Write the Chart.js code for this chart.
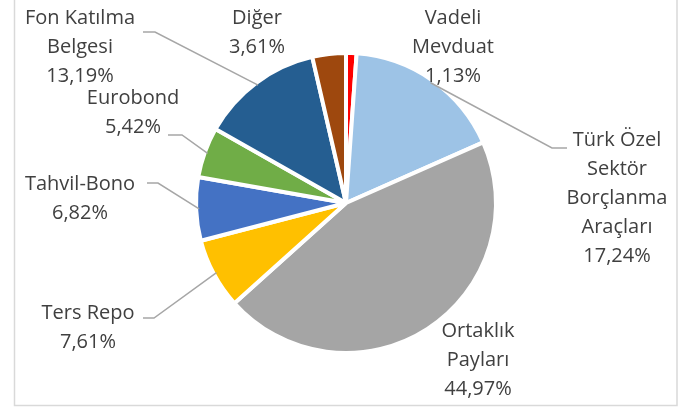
<!DOCTYPE html>
<html>
<head>
<meta charset="utf-8">
<script src="https://cdn.jsdelivr.net/npm/chart.js@4.4.1/dist/chart.umd.min.js"></script>
<style>
    html, body { margin: 0; padding: 0; background: #fff; }
    #wrap { width: 697px; height: 410px; }
</style>
</head>
<body>
<div id="wrap"><canvas id="portfolioChart" width="697" height="410"></canvas></div>
<script>
const categories = ["Vadeli Mevduat", "Türk Özel Sektör Borçlanma Araçları", "Ortaklık Payları", "Ters Repo", "Tahvil-Bono", "Eurobond", "Fon Katılma Belgesi", "Diğer"];
const shares = [1.13, 17.24, 44.97, 7.61, 6.82, 5.42, 13.19, 3.61];
const labelLines = [
    ["Vadeli", "Mevduat"],
    ["Türk Özel", "Sektör", "Borçlanma", "Araçları"],
    ["Ortaklık", "Payları"],
    ["Ters Repo"],
    ["Tahvil-Bono"],
    ["Eurobond"],
    ["Fon Katılma", "Belgesi"],
    ["Diğer"]
];
const sliceColors = ["#FF0000", "#9DC3E6", "#A5A5A5", "#FFC000", "#4472C4", "#70AD47", "#255E91", "#9E480E"];

// where each data label sits (centre of first line) and the elbow of its leader line
const labelLayout = [
    { x: 453, y: 18, leader: null },
    { x: 617, y: 140, leader: [[567, 148], [552, 148]] },
    { x: 478, y: 331, leader: null },
    { x: 88, y: 313, leader: [[143, 318], [154, 318]] },
    { x: 80, y: 184, leader: [[147, 183], [158, 183]] },
    { x: 133, y: 98, leader: [[168, 135], [182, 135]] },
    { x: 80, y: 18, leader: [[143, 32], [155, 32]] },
    { x: 257, y: 18, leader: null }
];

const fmtPct = (v) => v.toFixed(2).replace(".", ",") + "%";

const frameAndLabels = {
    id: "frameAndLabels",
    beforeDraw(chart) {
        const ctx = chart.ctx;
        ctx.save();
        ctx.strokeStyle = "#D9D9D9";
        ctx.lineWidth = 1.5;
        ctx.strokeRect(14.5, -5, 662.5, 410.5);
        ctx.restore();
    },
    afterDatasetsDraw(chart) {
        const ctx = chart.ctx;
        const arcs = chart.getDatasetMeta(0).data;
        ctx.save();
        ctx.font = "20px 'Open Sans'";
        ctx.fillStyle = "#404040";
        ctx.textAlign = "center";
        ctx.textBaseline = "middle";
        arcs.forEach((arc, i) => {
            const pos = labelLayout[i];
            const lines = labelLines[i].concat([fmtPct(shares[i])]);
            lines.forEach((t, k) => ctx.fillText(t, pos.x, pos.y + k * 29));
            if (pos.leader) {
                const mid = (arc.startAngle + arc.endAngle) / 2;
                const r = arc.outerRadius - 3;
                ctx.beginPath();
                ctx.strokeStyle = "#A6A6A6";
                ctx.lineWidth = 1.5;
                ctx.moveTo(pos.leader[0][0], pos.leader[0][1]);
                ctx.lineTo(pos.leader[1][0], pos.leader[1][1]);
                ctx.lineTo(arc.x + Math.cos(mid) * r, arc.y + Math.sin(mid) * r);
                ctx.stroke();
            }
        });
        ctx.restore();
    }
};

new Chart(document.getElementById("portfolioChart"), {
    type: "pie",
    data: {
        labels: categories,
        datasets: [
            {
                data: shares,
                backgroundColor: sliceColors,
                borderColor: "#FFFFFF",
                borderWidth: 4,
                radius: 150
            }
        ]
    },
    options: {
        responsive: false,
        animation: false,
        layout: { padding: { left: 50, right: 55, top: 50, bottom: 54 } },
        plugins: {
            legend: { display: false },
            tooltip: { enabled: false }
        }
    },
    plugins: [frameAndLabels]
});
</script>
</body>
</html>
